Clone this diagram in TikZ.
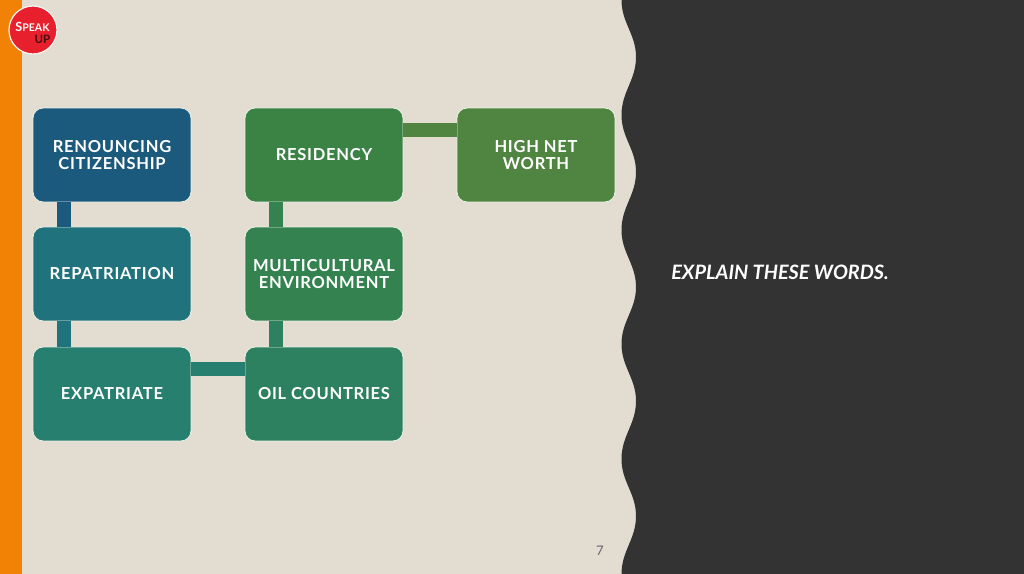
\documentclass[tikz,border=0pt]{standalone}
\usepackage{fontspec}
\setmainfont{Lato}
\newfontfamily\boxfont[LetterSpace=4.5]{Lato}
\usetikzlibrary{calc}
\definecolor{paper}{HTML}{E3DDD1}
\definecolor{slate}{HTML}{333333}
\definecolor{tangerine}{HTML}{F28205}
\definecolor{rimline}{HTML}{E6F0E4}
\definecolor{logored}{HTML}{E8202E}
\definecolor{logodark}{HTML}{4A0D12}
\definecolor{cRenounce}{HTML}{1B5A7D}
\definecolor{cRepat}{HTML}{20727D}
\definecolor{cExpat}{HTML}{277F6F}
\definecolor{cOil}{HTML}{2D8060}
\definecolor{cMulti}{HTML}{33824F}
\definecolor{cResid}{HTML}{3B8245}
\definecolor{cHigh}{HTML}{508441}
\begin{document}
\begin{tikzpicture}[
            x=0.02cm, y=-0.02cm,
            term/.style={draw=rimline, line width=0.5pt, rounded corners=0.2cm, minimum width=3.16cm, minimum height=1.88cm, inner sep=0pt, align=center, text=white, font=\boxfont\bfseries\fontsize{9.4}{9.7}\selectfont},
            vlink/.style={line width=0.28cm},
            hlink/.style={line width=0.28cm},
            ]
            \useasboundingbox (0,0) rectangle (1024,574);
            \fill[paper] (0,0) rectangle (1024,574);
            \fill[tangerine] (0,0) rectangle (22,574);

            % dark panel with wavy edge
            \fill[slate] (621.5,0)
                to[out=-90,in=90] (636,57) to[out=-90,in=90] (621.5,115)
                to[out=-90,in=90] (636,172) to[out=-90,in=90] (621.5,230)
                to[out=-90,in=90] (636,287) to[out=-90,in=90] (621.5,344)
                to[out=-90,in=90] (636,401) to[out=-90,in=90] (621.5,459)
                to[out=-90,in=90] (636,516) to[out=-90,in=90] (621.5,574)
                -- (1024,574) -- (1024,0) -- cycle;

            % logo
            \node (logo) [circle, draw=white!70!paper, line width=0.7pt, fill=logored, minimum size=0.96cm, inner sep=0pt] at (33,30) {};
            \node (speak) [text=white, font=\bfseries\fontsize{7.2}{8}\selectfont, inner sep=0pt] at (32.5,26.5) {S\fontsize{6}{7}\selectfont PEAK};
            \node (up) [text=logodark, font=\bfseries\fontsize{6.6}{7}\selectfont, inner sep=0pt] at (42.5,39.5) {UP};

            \node (renounce) [term, fill=cRenounce] at (112,155) {RENOUNCING\\CITIZENSHIP};
            \node (repat) [term, fill=cRepat] at (112,274) {REPATRIATION};
            \node (expat) [term, fill=cExpat] at (112,394) {EXPATRIATE};
            \node (oil) [term, fill=cOil] at (324,394) {OIL COUNTRIES};
            \node (multi) [term, fill=cMulti] at (324,274) {MULTICULTURAL\\ENVIRONMENT};
            \node (resid) [term, fill=cResid] at (324,155) {RESIDENCY};
            \node (high) [term, fill=cHigh] at (536,155) {HIGH NET\\WORTH};

            \draw[vlink, cRenounce] ($(renounce.south west)!0.2!(renounce.south east)$) -- ($(repat.north west)!0.2!(repat.north east)$);
            \draw[vlink, cRepat] ($(repat.south west)!0.2!(repat.south east)$) -- ($(expat.north west)!0.2!(expat.north east)$);
            \draw[hlink, cExpat] ($(expat.north east)!0.234!(expat.south east)$) -- ($(oil.north west)!0.234!(oil.south west)$);
            \draw[vlink, cOil] ($(oil.north west)!0.2!(oil.north east)$) -- ($(multi.south west)!0.2!(multi.south east)$);
            \draw[vlink, cMulti] ($(multi.north west)!0.2!(multi.north east)$) -- ($(resid.south west)!0.2!(resid.south east)$);
            \draw[hlink, cHigh] ($(resid.north east)!0.234!(resid.south east)$) -- ($(high.north west)!0.234!(high.south west)$);

            \node (explain) [text=white, font=\bfseries\itshape\fontsize{11.3}{12}\selectfont] at (780,272) {EXPLAIN THESE WORDS.};
            \node (pageno) [text=black!60, font=\fontsize{7.5}{9}\selectfont] at (600,551) {7};
        \end{tikzpicture}
\end{document}
